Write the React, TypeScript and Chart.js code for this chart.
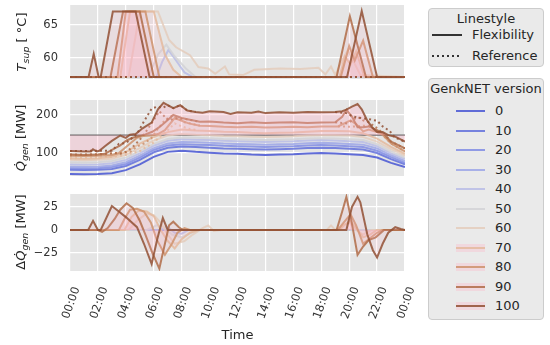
import { useEffect, useRef } from 'react';
import { Chart, registerables } from 'chart.js';

Chart.register(...registerables);

const FONT = '"DejaVu Sans", sans-serif';
const TEXT = '#262626';

// ---------- categories & ticks ----------
const versions = [0, 10, 20, 30, 40, 50, 60, 70, 80, 90, 100];
const fillVersions = [70, 80, 90, 100];
const hours = [0, 1, 2, 3, 4, 5, 6, 7, 8, 9, 10, 11, 12, 13, 14, 15, 16, 17, 18, 19, 20, 21, 22, 23, 24];
const xTickHours = [0, 2, 4, 6, 8, 10, 12, 14, 16, 18, 20, 22, 24];
const tTicks = [60, 65];
const qTicks = [100, 200];
const dTicks = [-25, 0, 25];
const tRange = [56.8, 68.0];
const qRange = [39.5, 239.5];
const dRange = [-44.6, 39.1];

// ---------- supply temperature [°C] (flexibility) ----------
const tBase = 57.1;
const tRef = [[0, tBase], [24, tBase]];
const tFlex0 = [[0, 57.1], [24, 57.1]];
const tFlex10 = [[0, 57.1], [24, 57.1]];
const tFlex20 = [[0, 57.1], [24, 57.1]];
const tFlex30 = [[0, 57.1], [24, 57.1]];
const tFlex40 = [[0, 57.1], [6.2, 57.1], [6.6, 59.4], [7.05, 61.2], [7.6, 59.6], [8.2, 57.8], [8.8, 57.1], [24, 57.1]];
const tFlex50 = [[0, 57.1], [5.6, 57.1], [6.3, 60.5], [6.9, 62.0], [7.5, 60.2], [8.3, 58.4], [9.0, 57.1], [24, 57.1]];
const tFlex60 = [[0, 57.1], [4.2, 57.1], [5.0, 67], [6.3, 67], [7.1, 62.7], [7.6, 61.6], [8.6, 60.4], [9.2, 58.6], [9.9, 58.4], [10.4, 57.6], [11.1, 58.7], [11.4, 57.5], [12.4, 57.4], [13.2, 58.2], [15, 58.4], [16.5, 58.3], [17.8, 58.5], [18.3, 57.5], [18.7, 58.7], [19.0, 57.4], [19.4, 59.2], [19.9, 61.2], [20.3, 59.5], [20.8, 57.4], [24, 57.1]];
const tFlex70 = [[0, 57.1], [3.6, 57.1], [4.3, 67], [6.0, 67], [6.8, 60.5], [7.4, 58.2], [8.0, 57.1], [19.3, 57.1], [19.7, 60.2], [20.1, 59.0], [20.5, 61.0], [21.1, 57.1], [24, 57.1]];
const tFlex80 = [[0, 57.1], [3.4, 57.1], [4.0, 67], [5.4, 67], [6.4, 57.1], [19.4, 57.1], [20.0, 61.8], [20.4, 59.6], [21.0, 62.6], [21.7, 57.1], [24, 57.1]];
const tFlex90 = [[0, 57.1], [2.9, 57.1], [3.8, 67], [5.0, 67], [6.0, 57.1], [19.1, 57.1], [20.05, 66.3], [21.2, 57.1], [24, 57.1]];
const tFlex100 = [[0, 57.1], [1.33, 57.1], [1.7, 60.6], [2.05, 57.1], [2.2, 57.1], [3.07, 67], [4.7, 67], [5.7, 57.1], [19.85, 57.1], [20.9, 67.1], [22.0, 57.1], [24, 57.1]];

// ---------- generated heat [MW] (hourly for the smooth versions) ----------
const q0 = [45, 44, 45, 47, 55, 70, 90, 103, 106, 103, 101, 99, 98, 96, 95, 96, 97, 99, 100, 99, 97, 95, 88, 74, 63];
const q10 = [56, 55, 56, 58, 66, 82, 102, 114, 117, 116, 114, 112, 111, 110, 109, 110, 111, 113, 114, 113, 111, 109, 100, 84, 70];
const q20 = [60, 59, 60, 63, 71, 88, 108, 120, 123, 122, 121, 119, 118, 117, 116, 117, 118, 120, 121, 120, 118, 116, 106, 89, 74];
const q30 = [64, 63, 64, 67, 76, 93, 113, 125, 129, 128, 127, 125, 124, 123, 122, 123, 124, 126, 127, 126, 124, 122, 112, 94, 79];
const q40 = [70, 69, 70, 73, 82, 99, 119, 132, 136, 135, 134, 132, 131, 130, 129, 130, 131, 133, 134, 133, 131, 129, 118, 99, 84];
const q50 = [76, 75, 76, 79, 88, 105, 124, 137, 141, 140, 139, 137, 136, 135, 134, 135, 136, 138, 139, 138, 136, 134, 123, 104, 88];
const q60 = [82, 81, 82, 85, 95, 113, 133, 146, 150, 148, 147, 145, 144, 143, 142, 143, 144, 146, 147, 147, 146, 142, 130, 110, 93];
const q70 = [86, 85, 86, 90, 102, 125, 142, 155, 162, 159, 158, 156, 155, 153, 152, 153, 154, 156, 158, 158, 157, 152, 138, 116, 98];
const q80 = [[0, 93], [1, 92], [2, 93], [3, 95], [3.5, 100], [4.2, 122], [4.8, 140], [5.3, 145], [5.8, 146], [6.3, 150], [6.8, 160], [7.5, 192], [8.0, 185], [8.5, 178], [9.3, 172], [10, 171], [11, 169], [12, 168], [13, 169], [14, 167], [15, 168], [16, 169], [17, 168], [18, 170], [19.2, 170], [19.6, 177], [20.1, 186], [20.5, 176], [21.0, 157], [21.4, 162], [22, 155], [22.4, 148], [23, 125], [24, 104]];
const q90 = [[0, 96], [1, 95], [2, 96], [2.5, 98], [3.2, 112], [3.6, 120], [4.05, 133], [4.5, 140], [5.0, 145], [5.4, 149], [5.9, 156], [6.4, 168], [6.8, 180], [7.1, 190], [7.4, 200], [8.0, 192], [8.5, 188], [9.3, 182], [10, 183], [11, 180], [12, 178], [13, 181], [14, 179], [15, 180], [16, 181], [17, 179], [18, 180], [19, 181], [19.5, 195], [19.8, 214], [20.2, 196], [20.6, 168], [21.0, 168], [21.4, 170], [22, 160], [22.5, 150], [23, 130], [24, 112]];
const q100 = [[0, 105], [1, 104], [1.5, 104], [1.65, 110], [1.9, 104], [2.1, 106], [2.5, 118], [3.0, 132], [3.6, 146], [4.0, 140], [4.3, 148], [4.7, 150], [5.2, 165], [5.85, 180], [6.3, 215], [6.7, 232], [7.0, 226], [7.4, 218], [7.9, 226], [8.4, 212], [9.0, 208], [9.5, 206], [10, 210], [11, 208], [11.5, 203], [12, 207], [13, 206], [13.5, 209], [14, 205], [15, 207], [16, 206], [17, 208], [18, 207], [19, 208], [19.5, 210], [19.8, 214], [20.2, 222], [20.6, 229], [20.9, 215], [21.3, 185], [21.7, 165], [22.0, 155], [22.4, 155], [22.8, 147], [23.3, 143], [24, 130]];
// reference runs (only where they differ from flexibility)
const q70Ref = [[0, 86], [3, 90], [4, 95], [5, 105], [6, 128], [7, 160], [7.5, 178], [8, 170], [8.6, 163], [9.2, 160]];
const q80Ref = [[0, 93], [3.5, 100], [4.3, 103], [4.8, 117], [5.3, 125], [5.8, 138], [6.2, 159], [6.8, 187], [7.3, 198], [7.7, 192], [8.2, 181], [8.6, 178], [9.3, 172], [12, null], [19.2, 170], [20.1, 169], [21.0, 172], [21.4, 172], [22, 158], [22.4, 148], [23, 125], [24, 104]];
const q90Ref = [[0, 96], [2.0, 96], [3.2, 100], [3.6, 98], [4.05, 104], [4.5, 116], [5.0, 135], [5.4, 154], [5.9, 181], [6.4, 210], [6.8, 195], [7.1, 185], [7.4, 191], [8.1, 190], [8.5, 188], [9.3, 182], [12, null], [19, 181], [19.8, 178], [20.1, 183], [20.6, 195], [21.0, 186], [21.4, 181], [21.9, 168], [22.5, 150], [23, 130], [24, 112]];
const q100Ref = [[0, 105], [2.1, 106], [3.0, 106], [3.5, 124], [4.0, 126], [4.8, 150], [5.3, 183], [5.85, 217], [6.25, 222], [6.65, 219], [7.0, 226], [7.4, 218], [7.9, 226], [8.4, 212], [9.0, 208], [12, null], [19, 208], [19.8, 205], [20.2, 197], [20.6, 193], [21.3, 190], [21.7, 187], [22.0, 185], [22.4, 170], [22.9, 158], [23.3, 140], [24, 130]];
const qGreyLevel = 147;
const qGrey = [[0, qGreyLevel], [24, qGreyLevel]];

// ---------- difference in generated heat [MW] ----------
const d0 = [[0, 0], [24, 0]];
const d10 = [[0, 0], [24, 0]];
const d20 = [[0, 0], [24, 0]];
const d30 = [[0, 0], [24, 0]];
const d40 = [[0, 0], [6.4, 0], [7.0, 3], [7.5, -3], [8.0, -4], [8.5, 0], [24, 0]];
const d50 = [[0, 0], [5.5, 0], [6.2, 5], [6.8, 3], [7.3, -5], [8, -8], [8.7, -3], [9.3, 0], [24, 0]];
const d60 = [[0, 0], [4.2, 0], [4.8, 10], [5.5, 18], [6.0, 16], [6.5, 8], [7.0, -5], [7.5, -15], [8.2, -12], [8.8, -5], [9.5, 2], [9.9, 5], [10.3, -1], [10.8, 0], [18.4, 0], [18.7, 5], [19.0, 0], [19.5, 5], [20.0, 8], [20.5, 0], [21.0, -5], [21.6, 0], [24, 0]];
const d70 = [[0, 0], [3.9, 0], [4.4, 14], [4.9, 21], [5.5, 20], [6.0, 15], [6.5, 0], [7.0, -12], [7.5, -20], [8.0, -10], [8.6, -3], [9.2, 0], [19.3, 0], [19.7, 6], [20.1, 10], [20.5, 2], [21.0, -8], [21.5, -5], [22, 0], [24, 0]];
const d80 = [[0, 0], [3.5, 0], [3.9, 12], [4.3, 22], [4.8, 23], [5.3, 20], [5.8, 8], [6.2, -10], [6.8, -27], [7.3, -15], [7.7, -3], [8.2, 2], [8.6, 0], [19.2, 0], [19.6, 8], [20.1, 17], [20.5, 5], [21.0, -15], [21.4, -10], [22, -3], [22.4, 0], [24, 0]];
const d90 = [[0, 0], [2.0, 0], [2.3, -2], [2.7, 2], [3.2, 12], [3.6, 22], [4.05, 29], [4.5, 24], [5.0, 10], [5.4, -5], [5.9, -25], [6.4, -42], [6.8, -15], [7.1, 5], [7.4, 9], [7.8, 3], [8.1, 0], [19.1, 0], [19.5, 20], [19.8, 36], [20.1, 15], [20.6, -27], [21.0, -18], [21.4, -11], [21.9, -8], [22.5, 0], [24, 0]];
const d100 = [[0, 0], [1.3, 0], [1.65, 10], [2.0, 0], [2.2, 0], [3.0, 26], [3.5, 20], [4.0, 14], [4.8, 3], [5.3, -15], [5.85, -37], [6.25, -10], [6.65, 13], [7.0, 0], [19.8, 0], [20.2, 25], [20.6, 36], [20.8, 30], [21.3, -5], [21.7, -22], [22.0, -30], [22.4, -15], [22.8, -3], [23.3, 3], [23.7, 1], [24, 0]];

// ---------- styles ----------
const versionRGB = ['72,86,212', '98,112,220', '128,140,228', '156,166,232', '184,188,230', '210,210,214', '228,204,188', '228,186,158', '206,146,108', '176,108,72', '146,80,52'];
const PINK = 'rgba(255,170,190,0.14)';
const PINK_STRONG = 'rgba(255,175,195,0.32)';

const hourly = (v: number[]) => v.map((y, i) => ({ x: hours[i], y }));
const pts = (a: any[]) => a.map(([x, y]: any) => ({ x, y }));
const col = (i: number, a = 0.85) => `rgba(${versionRGB[i]},${a})`;

const tFlexAll = [tFlex0, tFlex10, tFlex20, tFlex30, tFlex40, tFlex50, tFlex60, tFlex70, tFlex80, tFlex90, tFlex100];
const qFlexAll = [hourly(q0), hourly(q10), hourly(q20), hourly(q30), hourly(q40), hourly(q50), hourly(q60), hourly(q70), pts(q80), pts(q90), pts(q100)];
const qRefAll: any[] = [null, null, null, null, null, null, null, q70Ref, q80Ref, q90Ref, q100Ref];
const dAll = [d0, d10, d20, d30, d40, d50, d60, d70, d80, d90, d100];

const bgPlugin = {
  id: 'panelBg',
  beforeDraw(chart: any) {
    const { ctx, chartArea: a } = chart;
    ctx.save();
    ctx.fillStyle = '#e5e5e5';
    ctx.fillRect(a.left, a.top, a.width, a.height);
    ctx.restore();
  },
};

const minus = (v: any) => String(v).replace('-', '\u2212');
const hh = (v: any) => `${String(Number(v) % 24).padStart(2, '0')}:00`;

const CANVAS_W = 425;
const RIGHT_PAD = 20;

function options(yRange: number[], yTicks: number[], showX: boolean) {
  return {
    responsive: false,
    animation: false,
    devicePixelRatio: 1,
    layout: { padding: { top: 5, bottom: showX ? 0 : 5, left: 0, right: RIGHT_PAD } },
    plugins: { legend: { display: false }, tooltip: { enabled: false } },
    elements: { point: { radius: 0 }, line: { tension: 0 } },
    scales: {
      x: {
        type: 'linear',
        min: 0,
        max: 24,
        grid: { color: '#ffffff', lineWidth: 1.2, drawTicks: false },
        border: { display: false },
        afterBuildTicks: (s: any) => { s.ticks = xTickHours.map((value) => ({ value })); },
        afterFit: (s: any) => { s.height = showX ? 74 : 0; s.paddingLeft = 0; s.paddingRight = 0; },
        ticks: showX
          ? { display: true, autoSkip: false, minRotation: 70, maxRotation: 70, labelOffset: 7, padding: 14, color: '#333', font: { family: FONT, size: 11.5 }, callback: hh }
          : { display: false },
        title: showX
          ? { display: true, text: 'Time', color: TEXT, font: { family: FONT, size: 13 }, padding: { top: 0, bottom: 2 } }
          : { display: false },
      },
      y: {
        type: 'linear',
        min: yRange[0],
        max: yRange[1],
        grid: { color: '#ffffff', lineWidth: 1.2, drawTicks: false },
        border: { display: false },
        afterBuildTicks: (s: any) => { s.ticks = yTicks.map((value) => ({ value })); },
        afterFit: (s: any) => { s.width = 70; s.paddingTop = 0; s.paddingBottom = 0; },
        ticks: { color: '#333', padding: 12, font: { family: FONT, size: 11.5 }, callback: minus },
      },
    },
  };
}

function line(data: any[], i: number, order: number, extra: any = {}) {
  return { data, borderColor: col(i), borderWidth: 2, pointRadius: 0, fill: false, order, spanGaps: false, ...extra };
}

function tempDatasets() {
  const ds: any[] = [];
  versions.forEach((v, i) => {
    const isFill = fillVersions.includes(v);
    ds.push(line(pts(tFlexAll[i]), i, (10 - i) * 2 + 1, isFill ? { fill: { value: tBase }, backgroundColor: PINK } : {}));
    ds.push(line(pts(tRef), i, (10 - i) * 2, { borderDash: [2, 3] }));
  });
  return ds;
}

function heatDatasets() {
  const ds: any[] = [];
  ds.push({ data: pts(qGrey), borderColor: 'rgba(90,90,90,0.9)', borderWidth: 1.2, pointRadius: 0, fill: false, order: 50 });
  versions.forEach((v, i) => {
    const extra = v === 100 ? { fill: { value: qGreyLevel }, backgroundColor: PINK_STRONG } : {};
    ds.push(line(qFlexAll[i], i, (10 - i) * 2 + 1, extra));
    if (qRefAll[i]) ds.push(line(pts(qRefAll[i]), i, (10 - i) * 2, { borderDash: [2, 3] }));
  });
  return ds;
}

function diffDatasets() {
  return versions.map((v, i) =>
    line(pts(dAll[i]), i, 10 - i, fillVersions.includes(v) ? { fill: { value: 0 }, backgroundColor: PINK } : {})
  );
}

const abs = (o: any) => ({ position: 'absolute' as const, ...o });

export default function App() {
  const r1 = useRef<HTMLCanvasElement>(null);
  const r2 = useRef<HTMLCanvasElement>(null);
  const r3 = useRef<HTMLCanvasElement>(null);

  useEffect(() => {
    const charts = [
      new Chart(r1.current as any, { type: 'line', data: { datasets: tempDatasets() }, options: options(tRange, tTicks, false) as any, plugins: [bgPlugin] }),
      new Chart(r2.current as any, { type: 'line', data: { datasets: heatDatasets() }, options: options(qRange, qTicks, false) as any, plugins: [bgPlugin] }),
      new Chart(r3.current as any, { type: 'line', data: { datasets: diffDatasets() }, options: options(dRange, dTicks, true) as any, plugins: [bgPlugin] }),
    ];
    return () => charts.forEach((c) => c.destroy());
  }, []);

  const yTitle = (cx: number, cy: number, content: any) => (
    <div style={abs({ left: cx, top: cy, transform: 'translate(-50%,-50%) rotate(-90deg)', whiteSpace: 'nowrap', fontSize: 13, lineHeight: '16px' })}>{content}</div>
  );
  const sub = (t: string) => <sub style={{ fontSize: 9.5, fontStyle: 'italic', verticalAlign: '-3px', lineHeight: 0 }}>{t}</sub>;
  const dotted = 'repeating-linear-gradient(to right, #333 0 2px, transparent 2px 5px)';

  return (
    <div style={abs({ left: 0, top: 0, width: 550, height: 345, background: '#fff', fontFamily: FONT, color: TEXT, position: 'fixed' })}>
      <canvas ref={r1} width={CANVAS_W} height={84} style={abs({ left: 0, top: 0 })} />
      <canvas ref={r2} width={CANVAS_W} height={86} style={abs({ left: 0, top: 95 })} />
      <canvas ref={r3} width={CANVAS_W} height={156} style={abs({ left: 0, top: 189 })} />

      {yTitle(22, 42, <span><i>T</i>{sub('sup')} [ °C]</span>)}
      {yTitle(21, 138, <span><i>{'Q\u0307'}</i>{sub('gen')} [MW]</span>)}
      {yTitle(21, 232, <span>Δ<i>{'Q\u0307'}</i>{sub('gen')} [MW]</span>)}

      {/* Linestyle legend */}
      <div style={abs({ left: 428, top: 8, width: 116, height: 59, boxSizing: 'border-box', border: '1px solid #cccccc', borderRadius: 4, background: 'rgba(234,234,234,1)' })} />
      <div style={abs({ left: 428, top: 11, width: 116, textAlign: 'center', fontSize: 13, lineHeight: '16px' })}>Linestyle</div>
      <div style={abs({ left: 432, top: 34, width: 30, height: 2, background: '#333' })} />
      <div style={abs({ left: 472, top: 27, fontSize: 13, lineHeight: '16px' })}>Flexibility</div>
      <div style={abs({ left: 432, top: 55, width: 30, height: 2, backgroundImage: dotted })} />
      <div style={abs({ left: 472, top: 48, fontSize: 13, lineHeight: '16px' })}>Reference</div>

      {/* Version legend */}
      <div style={abs({ left: 428, top: 78, width: 116, height: 242, boxSizing: 'border-box', border: '1px solid #cccccc', borderRadius: 4, background: 'rgba(234,234,234,1)' })} />
      <div style={abs({ left: 428, top: 81, width: 116, textAlign: 'center', fontSize: 13, lineHeight: '16px', whiteSpace: 'nowrap' })}>GenkNET version</div>
      {versions.map((v, i) => {
        const y = 111 + i * 19.5;
        return (
          <div key={v}>
            {fillVersions.includes(v) && <div style={abs({ left: 456, top: y - 4, width: 29, height: 8, background: 'rgba(255,175,195,0.3)' })} />}
            <div style={abs({ left: 456, top: y - 1, width: 29, height: 2, background: col(i) })} />
            <div style={abs({ left: 495, top: y - 8, fontSize: 13, lineHeight: '16px' })}>{String(v)}</div>
          </div>
        );
      })}
    </div>
  );
}
